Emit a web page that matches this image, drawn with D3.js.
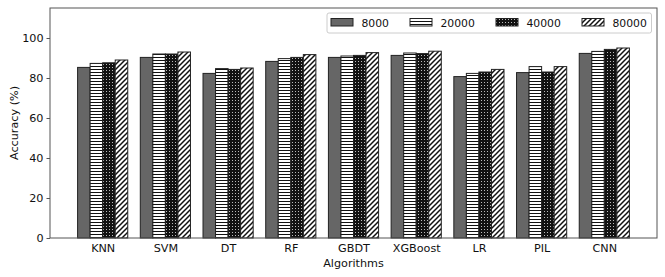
<!DOCTYPE html>
<html><head><meta charset="utf-8">
<script src="https://cdn.jsdelivr.net/npm/d3@7"></script>
<style>body{margin:0;background:#fff}svg{display:block;font-family:"DejaVu Sans",sans-serif}</style>
</head><body><svg id="c" width="665" height="277"></svg>
<script>
const categories = ["KNN","SVM","DT","RF","GBDT","XGBoost","LR","PIL","CNN"];
const seriesNames = ["8000","20000","40000","80000"];
const s8000  = [85.3, 90.3, 82.3, 88.3, 90.3, 91.3, 80.7, 82.7, 92.3];
const s20000 = [87.3, 92.0, 84.7, 89.7, 91.0, 92.5, 82.3, 85.7, 93.3];
const s40000 = [87.6, 92.0, 84.3, 90.3, 91.3, 92.2, 83.0, 83.0, 94.3];
const s80000 = [89.0, 93.0, 85.0, 91.7, 92.7, 93.4, 84.3, 85.7, 95.0];
const seriesValues = [s8000, s20000, s40000, s80000];
const yTicks = [0,20,40,60,80,100];

const svg = d3.select("#c");
const L = 50, R = 657, T = 8, B = 238;
const FS = 11.2;

// patterns
const defs = svg.append("defs");
const p1 = defs.append("pattern").attr("id","hh").attr("patternUnits","userSpaceOnUse").attr("width",4).attr("height",3);
p1.append("rect").attr("width",4).attr("height",3).attr("fill","#fff");
p1.append("rect").attr("y",0).attr("width",4).attr("height",1).attr("fill","#111");
const p2 = defs.append("pattern").attr("id","dd").attr("patternUnits","userSpaceOnUse").attr("width",3).attr("height",3);
p2.append("rect").attr("width",3).attr("height",3).attr("fill","#111");
p2.append("rect").attr("x",1).attr("y",1).attr("width",1).attr("height",1).attr("fill","#bbb");
const p3 = defs.append("pattern").attr("id","ss").attr("patternUnits","userSpaceOnUse").attr("width",5).attr("height",5);
p3.append("rect").attr("width",5).attr("height",5).attr("fill","#fff");
p3.append("path").attr("d","M-1,6 L6,-1 M-1,1 L1,-1 M4,6 L6,4").attr("stroke","#111").attr("stroke-width",1.5);
const fills = ["#666666","url(#hh)","url(#dd)","url(#ss)"];

const x = d3.scaleLinear().domain([-0.84, 8.84]).range([L, R]);
const y = d3.scaleLinear().domain([0, 115]).range([B, T]);
const bw = 0.2;

seriesValues.forEach((vals, si) => {
  svg.append("g").selectAll("rect").data(vals).join("rect")
    .attr("x", (d,i) => x(i - 0.4 + si*bw))
    .attr("width", x(bw) - x(0))
    .attr("y", d => y(d))
    .attr("height", d => y(0) - y(d))
    .attr("fill", fills[si])
    .attr("stroke", "#222").attr("stroke-width", 1);
});

// frame
svg.append("rect").attr("x",L).attr("y",T).attr("width",R-L).attr("height",B-T)
  .attr("fill","none").attr("stroke","#555").attr("stroke-width",1);

// y axis
const ya = svg.append("g").attr("transform",`translate(${L},0)`)
  .call(d3.axisLeft(y).tickValues(yTicks).tickSize(3.5).tickPadding(3));
ya.select(".domain").remove();
ya.selectAll("line").attr("stroke","#555");
ya.selectAll("text").attr("font-size",FS).attr("fill","#111").attr("font-family","DejaVu Sans");

// x labels
const xa = svg.append("g").attr("transform",`translate(0,${B})`)
  .call(d3.axisBottom(x).tickValues(d3.range(categories.length)).tickFormat(i => categories[i]).tickSize(0).tickPadding(6));
xa.select(".domain").remove();
xa.selectAll("text").attr("font-size",FS).attr("fill","#111").attr("font-family","DejaVu Sans");

svg.append("text").attr("x",(L+R)/2).attr("y",267).attr("text-anchor","middle")
  .attr("font-size",FS).attr("fill","#111").text("Algorithms");
svg.append("text").attr("transform",`translate(18,${(T+B)/2}) rotate(-90)`).attr("text-anchor","middle")
  .attr("font-size",FS).attr("fill","#111").text("Accuracy (%)");

// legend
const lg = svg.append("g");
lg.append("rect").attr("x",327).attr("y",13).attr("width",324.5).attr("height",20).attr("rx",2)
  .attr("fill","#fff").attr("stroke","#ccc").attr("stroke-width",1);
const lx = [331, 410, 496, 582];
seriesNames.forEach((n, i) => {
  lg.append("rect").attr("x",lx[i]).attr("y",18.5).attr("width",22).attr("height",7.5)
    .attr("fill",fills[i]).attr("stroke","#222").attr("stroke-width",1);
  lg.append("text").attr("x",lx[i]+30.5).attr("y",26.5).attr("font-size",10.8).attr("fill","#111").text(n);
});
</script></body></html>
